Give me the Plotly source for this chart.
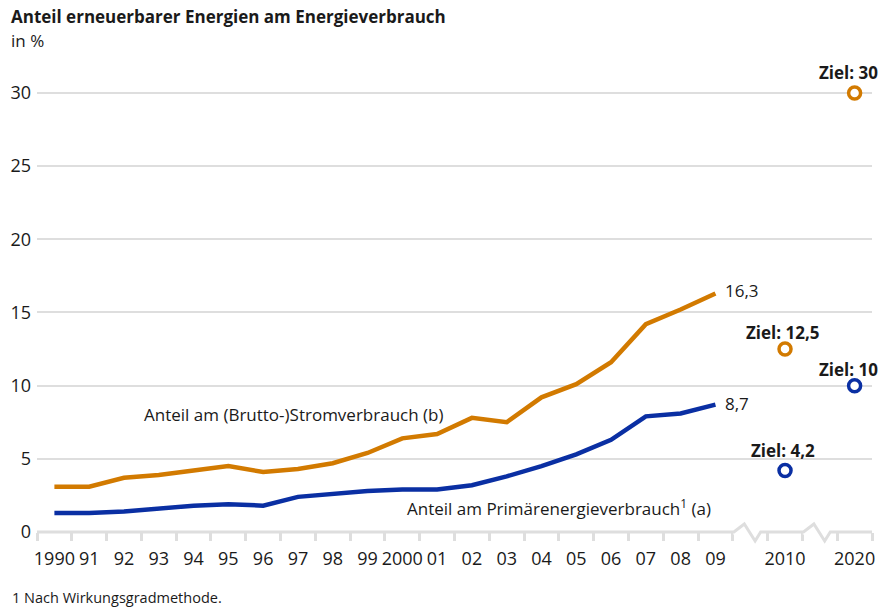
import plotly.graph_objects as go

# ---------------- data ----------------
years = ['1990', '91', '92', '93', '94', '95', '96', '97', '98', '99',
         '2000', '01', '02', '03', '04', '05', '06', '07', '08', '09']
strom = [3.1, 3.1, 3.7, 3.9, 4.2, 4.5, 4.1, 4.3, 4.7, 5.4,
         6.4, 6.7, 7.8, 7.5, 9.2, 10.1, 11.6, 14.2, 15.2, 16.3]
primaer = [1.3, 1.3, 1.4, 1.6, 1.8, 1.9, 1.8, 2.4, 2.6, 2.8,
           2.9, 2.9, 3.2, 3.8, 4.5, 5.3, 6.3, 7.9, 8.1, 8.7]
target_years = ['2010', '2020']
strom_targets = [12.5, 30]
primaer_targets = [4.2, 10]
gap_labels = [' ', '  ']   # axis-break slots
categories = years + [gap_labels[0], target_years[0], gap_labels[1], target_years[1]]
y_ticks = [0, 5, 10, 15, 20, 25, 30]

ORANGE = '#d27a00'
BLUE = '#0a2fa3'
GRID = '#dedede'
TXT = '#1a1a1a'
FONT = 'Open Sans'

def de(v):
    return (f'{v:g}').replace('.', ',')

def ci(c):
    return categories.index(c)

fig = go.Figure()
fig.add_trace(go.Scatter(x=years, y=strom, mode='lines',
                         line=dict(color=ORANGE, width=4.5), hoverinfo='skip'))
fig.add_trace(go.Scatter(x=years, y=primaer, mode='lines',
                         line=dict(color=BLUE, width=4.5), hoverinfo='skip'))
fig.add_trace(go.Scatter(x=target_years, y=strom_targets, mode='markers',
                         marker=dict(size=12, color='white', line=dict(color=ORANGE, width=3.5)),
                         hoverinfo='skip'))
fig.add_trace(go.Scatter(x=target_years, y=primaer_targets, mode='markers',
                         marker=dict(size=12, color='white', line=dict(color=BLUE, width=3.5)),
                         hoverinfo='skip'))

ann = []
# end labels
ann.append(dict(x=ci(years[-1]), y=strom[-1], text=de(strom[-1]), xanchor='left', yanchor='middle',
                xshift=8, yshift=3, showarrow=False, font=dict(size=17, color=TXT, family=FONT)))
ann.append(dict(x=ci(years[-1]), y=primaer[-1], text=de(primaer[-1]), xanchor='left', yanchor='middle',
                xshift=8, yshift=1, showarrow=False, font=dict(size=17, color=TXT, family=FONT)))
# target labels
for ys in (strom_targets, primaer_targets):
    for xv, yv in zip(target_years, ys):
        lift = 7 if yv in (primaer_targets[0], strom_targets[-1]) else 3
        ann.append(dict(x=ci(xv), y=yv, text='<b>Ziel: ' + de(yv) + '</b>', xanchor='center',
                        yanchor='bottom', yshift=lift, xshift=(-6 if xv == target_years[-1] else -2),
                        showarrow=False, font=dict(size=17, color=TXT, family=FONT)))
# series labels
ann.append(dict(x=6.9, y=8.0, text='Anteil am (Brutto-)Stromverbrauch (b)', xanchor='center',
                yanchor='middle', showarrow=False, font=dict(size=17, color=TXT, family=FONT)))
ann.append(dict(x=18.93, y=1.7, text='Anteil am Primärenergieverbrauch<sup>1</sup> (a)',
                xanchor='right', yanchor='middle', showarrow=False,
                font=dict(size=17, color=TXT, family=FONT)))
# title, unit, footnote
ann.append(dict(xref='paper', yref='paper', x=-0.0335, y=1.119, xanchor='left', yanchor='middle',
                text='<b>Anteil erneuerbarer Energien am Energieverbrauch</b>', showarrow=False,
                font=dict(size=17, color=TXT, family=FONT)))
ann.append(dict(xref='paper', yref='paper', x=-0.0335, y=1.066, xanchor='left', yanchor='middle',
                text='in %', showarrow=False, font=dict(size=17, color=TXT, family=FONT)))
ann.append(dict(xref='paper', yref='paper', x=-0.0323, y=-0.143, xanchor='left', yanchor='middle',
                text='1 Nach Wirkungsgradmethode.', showarrow=False,
                font=dict(size=14.5, color=TXT, family=FONT)))

# axis line with two breaks (x domain / paper coords, so not clipped)
n = len(categories)
up = 8 / 461.0
dn = -9 / 461.0
def brk(i):
    b = i / n
    s = 1.0 / n
    return (f' L {b + 0.03*s},0 L {b + 0.33*s},{up} L {b + 0.64*s},{dn} L {b + 0.8*s},0')
i1 = categories.index(gap_labels[0])
i2 = categories.index(gap_labels[1])
path = 'M 0,0' + brk(i1) + brk(i2) + ' L 1,0'
shapes = [
    dict(type='line', xref='x domain', yref='paper', x0=(i1 + 0.01) / n, x1=(i1 + 0.9) / n,
         y0=0, y1=0, line=dict(color='white', width=5)),
    dict(type='line', xref='x domain', yref='paper', x0=(i2 + 0.01) / n, x1=(i2 + 0.9) / n,
         y0=0, y1=0, line=dict(color='white', width=5)),
    dict(type='path', xref='x domain', yref='paper', path=path,
         line=dict(color=GRID, width=3)),
]

fig.update_layout(
    width=883, height=607,
    margin=dict(l=37, r=11, t=71, b=75),
    paper_bgcolor='white', plot_bgcolor='white',
    showlegend=False,
    font=dict(family=FONT, color=TXT, size=17),
    annotations=ann, shapes=shapes,
    xaxis=dict(type='category', categoryorder='array', categoryarray=categories,
               range=[-0.5, n - 0.5], tickson='boundaries', ticks='outside', ticklen=8,
               tickwidth=3, tickcolor=GRID, showgrid=False, showline=False, zeroline=False,
               tickangle=0, automargin=False, ticklabelstandoff=14,
               tickfont=dict(size=18, color=TXT, family=FONT)),
    yaxis=dict(range=[0, 31.5], tickvals=y_ticks, ticktext=[str(v) for v in y_ticks],
               showgrid=True, gridcolor=GRID, gridwidth=2, zeroline=False, showline=False,
               automargin=False,
               ticks='', ticklabelstandoff=5, tickfont=dict(size=18, color=TXT, family=FONT)),
)

fig.write_html('out.html', config={'displayModeBar': False},
               post_script="document.body.style.margin='0';document.body.style.padding='0';")
